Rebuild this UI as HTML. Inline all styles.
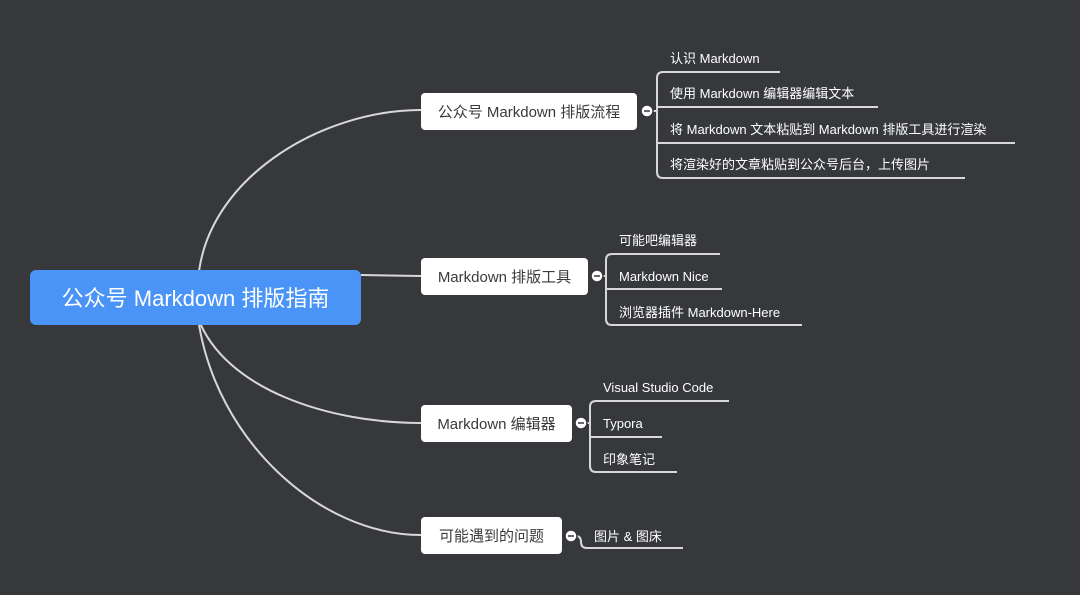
<!DOCTYPE html>
<html><head><meta charset="utf-8"><style>
html,body{margin:0;padding:0;background:#36383c;}
svg{display:block}
text{font-family:"Liberation Sans","Noto Sans CJK SC",sans-serif;}
</style></head><body>
<svg width="1080" height="595" viewBox="0 0 1080 595" xmlns="http://www.w3.org/2000/svg">
<rect width="1080" height="595" fill="#36383c"/>
<g fill="none" stroke="#d8d8d8" stroke-width="2">
<path d="M198,282 C204,180 320,110 421,110"/>
<path d="M361,275 L421,276"/>
<path d="M198,318 C225,390 330,423 421,423"/>
<path d="M198,318 C215,440 320,535 421,535"/>
<!-- node1 children -->
<path d="M647,111 H657"/>
<path d="M780,72 H663 Q657,72 657,78 V172 Q657,178 663,178 H965"/>
<path d="M657,107 H878"/>
<path d="M657,143 H1015"/>
<!-- node2 -->
<path d="M597,276 H606"/>
<path d="M720,254 H612 Q606,254 606,260 V319 Q606,325 612,325 H802"/>
<path d="M606,289 H722"/>
<!-- node3 -->
<path d="M581,423 H590"/>
<path d="M729,401 H596 Q590,401 590,407 V466 Q590,472 596,472 H677"/>
<path d="M590,437 H662"/>
<!-- node4 -->
<path d="M571,536 H576 Q581,536 581,542 Q581,548 587,548 H683"/>
</g>
<rect x="30" y="270" width="331" height="55" rx="6" fill="#4a94f7"/>
<text x="195.5" y="306" font-size="22" fill="#fff" text-anchor="middle">公众号 Markdown 排版指南</text>
<g fill="#fff">
<rect x="421" y="93" width="216" height="37" rx="4"/>
<rect x="421" y="258" width="167" height="37" rx="4"/>
<rect x="421" y="405" width="151" height="37" rx="4"/>
<rect x="421" y="517" width="141" height="37" rx="4"/>
</g>
<g font-size="15" fill="#3a3a3a" text-anchor="middle">
<text x="529" y="117">公众号 Markdown 排版流程</text>
<text x="504.5" y="282">Markdown 排版工具</text>
<text x="496.5" y="429">Markdown 编辑器</text>
<text x="491.5" y="541">可能遇到的问题</text>
</g>
<g fill="#fff" stroke="#36383c" stroke-width="1.5">
<circle cx="647" cy="111" r="6"/>
<circle cx="597" cy="276" r="6"/>
<circle cx="581" cy="423" r="6"/>
<circle cx="571" cy="536" r="6"/>
</g>
<g stroke="#36383c" stroke-width="1.5">
<path d="M644,111 H650"/><path d="M594,276 H600"/><path d="M578,423 H584"/><path d="M568,536 H574"/>
</g>
<g font-size="13" fill="#fff">
<text x="670" y="63">认识 Markdown</text>
<text x="670" y="98">使用 Markdown 编辑器编辑文本</text>
<text x="670" y="134">将 Markdown 文本粘贴到 Markdown 排版工具进行渲染</text>
<text x="670" y="169">将渲染好的文章粘贴到公众号后台，上传图片</text>
<text x="619" y="245">可能吧编辑器</text>
<text x="619" y="281">Markdown Nice</text>
<text x="619" y="317">浏览器插件 Markdown-Here</text>
<text x="603" y="392">Visual Studio Code</text>
<text x="603" y="428">Typora</text>
<text x="603" y="464">印象笔记</text>
<text x="594" y="541">图片 &amp; 图床</text>
</g>
</svg>
</body></html>
